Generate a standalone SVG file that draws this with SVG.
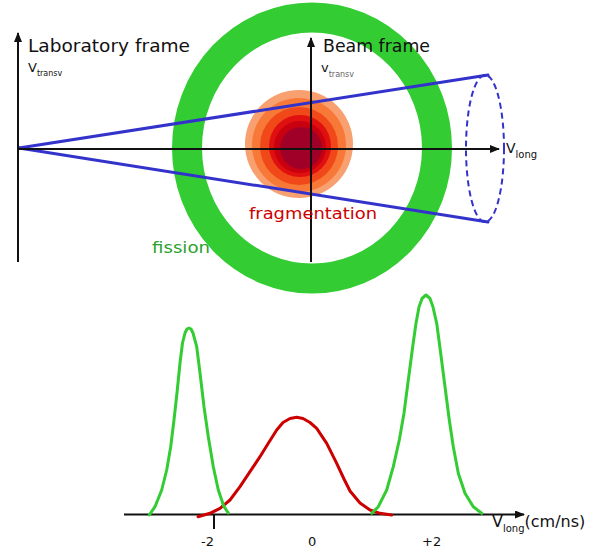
<svg xmlns="http://www.w3.org/2000/svg" width="598" height="554" viewBox="0 0 598 554">
<style>
  .lbl { font-family: "DejaVu Sans", "Liberation Sans", sans-serif; fill: #111; }
  .axis { stroke: #111; stroke-width: 2; fill: none; }
  .beam { stroke: #3333cc; stroke-width: 3; fill: none; stroke-linecap: round; }
  .green { stroke: #33cc33; stroke-width: 3; fill: none; stroke-linejoin: round; stroke-linecap: round; }
  .red { stroke: #cc0000; stroke-width: 3; fill: none; stroke-linejoin: round; stroke-linecap: round; }
</style>
<defs>
  <marker id="arr" markerWidth="10" markerHeight="8" refX="9" refY="4" orient="auto" markerUnits="userSpaceOnUse">
    <path d="M0,0 L10,4 L0,8 Z" fill="#111"/>
  </marker>
</defs>
<rect width="598" height="554" fill="#fff"/>

<g id="fission-ring">
  <ellipse cx="312" cy="148" rx="125" ry="130.5" fill="none" stroke="#33cc33" stroke-width="30"/>
</g>

<g id="fragmentation-blob">
  <ellipse cx="299" cy="144" rx="54" ry="54" fill="#f8a070"/>
  <ellipse cx="299" cy="145" rx="47" ry="47" fill="#f87838"/>
  <ellipse cx="299" cy="146" rx="39" ry="39" fill="#f04818"/>
  <ellipse cx="300" cy="146" rx="31" ry="31" fill="#e01010"/>
  <ellipse cx="300" cy="147" rx="26" ry="26" fill="#c80010"/>
  <ellipse cx="301" cy="148" rx="21" ry="21" fill="#a00028"/>
</g>

<g id="connectors">
  <line class="beam" x1="19" y1="148" x2="488" y2="75"/>
  <line class="beam" x1="19" y1="148" x2="488" y2="222"/>
  <ellipse cx="485" cy="148.5" rx="19" ry="73.5" fill="none" stroke="#3333cc" stroke-width="2" stroke-dasharray="6 4"/>
  <line class="axis" x1="18" y1="262" x2="18" y2="33" marker-end="url(#arr)"/>
  <line class="axis" x1="311" y1="262" x2="311" y2="38" marker-end="url(#arr)"/>
  <line class="axis" x1="18" y1="149" x2="499" y2="149" marker-end="url(#arr)"/>
  <line class="axis" x1="124" y1="514.5" x2="524" y2="514.5" marker-end="url(#arr)"/>
  <line class="axis" x1="214" y1="514" x2="214" y2="529"/>
</g>

<g id="labels-top">
  <text class="lbl" x="28" y="52" font-size="17" textLength="162" lengthAdjust="spacingAndGlyphs">Laboratory frame</text>
  <text class="lbl" x="28" y="72" font-size="13">V<tspan font-size="8" dy="4">transv</tspan></text>
  <text class="lbl" x="323" y="52" font-size="17" textLength="107" lengthAdjust="spacingAndGlyphs">Beam frame</text>
  <text class="lbl" x="321" y="72" font-size="13">v<tspan font-size="8" dy="5" fill="#666">transv</tspan></text>
  <text class="lbl" x="506" y="153" font-size="14">V<tspan font-size="10" dy="5">long</tspan></text>
  <text x="249" y="219" font-size="16" fill="#cc0000" font-family="DejaVu Sans, sans-serif" textLength="128" lengthAdjust="spacingAndGlyphs">fragmentation</text>
  <text x="152" y="253" font-size="16" fill="#2ca02c" font-family="DejaVu Sans, sans-serif" textLength="58" lengthAdjust="spacingAndGlyphs">fission</text>
</g>

<g id="curves">
  <polyline class="red" points="198,516.7 210,513.3 220,508.3 230,500 240,486.7 250,471.7 260,456.7 268.3,443.3 276.7,430 283,422.5 290,418.5 296.7,417.3 303,418.5 310,422.5 316.7,428.3 326.7,443.3 336.7,463.3 344,479 350,491 360,503 370,510 380,513.3 391.7,515"/>
  <polyline class="green" points="149.3,515 155,506.7 161.7,490 166.7,470 170.7,446.7 174,420 177.3,390 180,363 182.5,343 185,333 187,329 189,328 191,329 193,333 196.7,346.7 200,373 204,406.7 208.3,436.7 213.3,466.7 218.3,490 224,506.7 228.3,513"/>
  <polyline class="green" points="371.7,513.3 378.3,506.7 386.7,490 393.3,466.7 399.3,440 404,413.3 408.3,380 412.7,346.7 416,323.3 419,307 422,298.5 426,295 430,298.5 433,307 436.7,323.3 440.7,353.3 445,386.7 449.3,420 453.3,446.7 458.3,473.3 465,493.3 473.3,506.7 481.7,513.3"/>
</g>

<g id="labels-bottom">
  <text class="lbl" x="201" y="546" font-size="13">-2</text>
  <text class="lbl" x="308" y="546" font-size="13">0</text>
  <text class="lbl" x="422" y="546" font-size="13">+2</text>
  <text class="lbl" x="492" y="527" font-size="16">V<tspan font-size="10" dy="5">long</tspan><tspan font-size="16" dy="-5">(cm/ns)</tspan></text>
</g>
</svg>
